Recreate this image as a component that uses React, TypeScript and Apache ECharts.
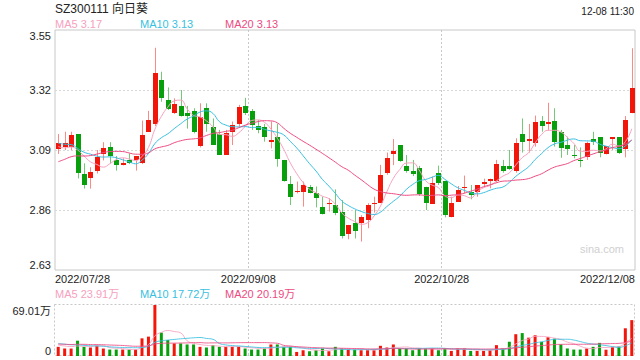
import React, { useEffect, useRef } from "react";
import * as echarts from "echarts";

const stockTitle = "SZ300111 向日葵";
const timeText = "12-08 11:30";

const dates = [
  "2022/07/28","2022/07/29",
  "2022/08/01","2022/08/02","2022/08/03","2022/08/04","2022/08/05","2022/08/08","2022/08/09","2022/08/10","2022/08/11","2022/08/12",
  "2022/08/15","2022/08/16","2022/08/17","2022/08/18","2022/08/19","2022/08/22","2022/08/23","2022/08/24","2022/08/25","2022/08/26",
  "2022/08/29","2022/08/30","2022/08/31",
  "2022/09/01","2022/09/02","2022/09/05","2022/09/06","2022/09/07","2022/09/08","2022/09/09","2022/09/13","2022/09/14","2022/09/15",
  "2022/09/16","2022/09/19","2022/09/20","2022/09/21","2022/09/22","2022/09/23","2022/09/26","2022/09/27","2022/09/28","2022/09/29","2022/09/30",
  "2022/10/10","2022/10/11","2022/10/12","2022/10/13","2022/10/14","2022/10/17","2022/10/18","2022/10/19","2022/10/20","2022/10/21",
  "2022/10/24","2022/10/25","2022/10/26","2022/10/27","2022/10/28","2022/10/31",
  "2022/11/01","2022/11/02","2022/11/03","2022/11/04","2022/11/07","2022/11/08","2022/11/09","2022/11/10","2022/11/11",
  "2022/11/14","2022/11/15","2022/11/16","2022/11/17","2022/11/18","2022/11/21","2022/11/22","2022/11/23","2022/11/24","2022/11/25",
  "2022/11/28","2022/11/29","2022/11/30",
  "2022/12/01","2022/12/02","2022/12/05","2022/12/06","2022/12/07","2022/12/08",
];

const opens = [
  3.093,3.103,3.103,3.151,2.999,2.981,3.011,3.075,3.100,3.050,
  3.031,3.052,3.052,3.042,3.160,3.190,3.358,3.282,3.233,3.259,
  3.230,3.239,3.105,3.250,3.177,3.151,3.071,3.160,3.190,3.259,
  3.240,3.182,3.180,3.122,3.141,3.052,2.960,2.929,2.930,2.950,
  2.924,2.873,2.883,2.879,2.854,2.768,2.811,2.811,2.822,2.883,
  2.886,3.000,3.073,3.109,3.030,3.011,3.020,2.949,2.883,3.000,
  2.972,2.832,2.892,2.943,2.930,2.930,2.960,2.972,2.972,3.030,
  3.030,3.011,3.151,3.126,3.116,3.200,3.190,3.202,3.158,3.109,
  3.071,3.052,3.062,3.131,3.139,3.073,3.131,3.139,3.093,3.233,
];
const closes = [
  3.116,3.116,3.146,3.003,2.955,3.004,3.064,3.096,3.067,3.034,
  3.039,3.042,3.067,3.146,3.205,3.386,3.288,3.246,3.266,3.220,
  3.220,3.160,3.218,3.190,3.109,3.071,3.156,3.186,3.256,3.231,
  3.186,3.167,3.141,3.128,3.054,2.972,2.911,2.934,2.956,2.926,
  2.905,2.843,2.888,2.850,2.760,2.803,2.780,2.834,2.879,2.888,
  2.994,3.058,3.087,3.049,3.011,2.998,2.921,2.886,2.962,2.962,
  2.841,2.886,2.937,2.949,2.918,2.956,2.967,2.980,3.036,3.011,
  3.019,3.116,3.122,3.131,3.196,3.182,3.196,3.122,3.099,3.093,
  3.067,3.048,3.116,3.122,3.080,3.105,3.139,3.080,3.205,3.329,
];
const highs = [
  3.151,3.160,3.160,3.151,3.039,3.024,3.090,3.120,3.120,3.067,
  3.058,3.077,3.067,3.203,3.240,3.482,3.390,3.330,3.288,3.320,
  3.259,3.250,3.269,3.269,3.211,3.167,3.167,3.199,3.263,3.290,
  3.247,3.205,3.190,3.199,3.190,3.052,2.990,2.969,2.969,2.956,
  2.950,2.911,2.905,2.939,2.898,2.803,2.860,2.840,2.886,2.911,
  3.033,3.080,3.132,3.109,3.071,3.052,3.029,2.949,2.988,3.030,
  2.972,2.911,2.952,2.992,2.956,2.956,2.980,2.980,3.052,3.052,
  3.090,3.135,3.211,3.190,3.222,3.220,3.271,3.250,3.167,3.141,
  3.109,3.100,3.122,3.160,3.139,3.105,3.139,3.139,3.220,3.480,
];
const lows = [
  3.075,3.090,3.090,2.981,2.942,2.942,3.000,3.050,3.039,3.011,
  3.031,3.036,3.011,3.036,3.160,3.182,3.275,3.243,3.228,3.218,
  3.172,3.154,3.100,3.160,3.109,3.071,3.071,3.109,3.180,3.224,
  3.167,3.154,3.122,3.096,3.026,2.969,2.879,2.924,2.873,2.924,
  2.870,2.843,2.854,2.840,2.751,2.748,2.751,2.739,2.790,2.850,
  2.886,2.995,3.032,3.045,3.003,2.990,2.914,2.860,2.883,2.956,
  2.832,2.832,2.892,2.924,2.901,2.911,2.950,2.943,2.965,3.003,
  3.014,3.003,3.080,3.080,3.103,3.160,3.167,3.103,3.060,3.071,
  3.058,3.024,3.052,3.109,3.062,3.073,3.090,3.075,3.062,3.231,
];
// closes of the 19 sessions before the window (used only for the moving averages)
const priorCloses = [
  2.93,2.95,2.94,2.96,2.97,2.95,2.98,2.991,3.02,3.053,
  3.15,3.16,3.15,3.10,3.08,3.14,3.13,3.06,3.07,
];

// volumes in 万
const volumes = [
  12.4,10.1,10.1,20.7,12.4,11.5,13.8,10.1,8.7,8.7,
  8.7,8.7,8.7,23.9,26.2,69.01,31.7,21.6,17,17,
  15.6,15.6,12.4,11.5,14.7,12.4,12.4,12.4,12.4,10.1,
  8.7,8.7,10.1,15.6,15.6,12.4,12.4,5.5,7.8,6.4,
  7.8,10.1,6.4,12.4,10.1,8.7,8.7,7.8,7.8,7.8,
  13.8,11.5,15.6,10.1,10.1,7.8,10.1,10.1,10.1,7.8,
  10.1,6.9,10.1,10.1,6.9,6.9,6.9,7.8,14.7,10.1,
  19.3,29.5,31,24.8,28,19.2,25.5,23.5,15.6,10.2,
  8.7,8.7,10.1,12.4,17.75,8.5,12,13,37.5,48.55,
];
const priorVolumes = [
  14,15,16,13,17,15,14,16,15,15.3,
  20,18,22,19,17.3,16,14,17,14.2,
];

const xTickLabels = ["2022/07/28", "2022/09/08", "2022/10/28", "2022/12/08"];
const yTickLabels = ["2.63", "2.86", "3.09", "3.32", "3.55"];
const priceMin = 2.63;
const priceMax = 3.55;
const maPeriods = [5, 10, 20];

const UP = "#f2150a";
const DOWN = "#07a00c";
const UP_WICK = "#f98a84";
const DOWN_WICK = "#74c976";
const MA_COLORS = ["#f7a0c0", "#38bfe0", "#ec4a82"];
const FONT = '"Liberation Sans", Arial, "Noto Sans CJK SC", sans-serif';

function movingAvg(prior: number[], values: number[], n: number): number[] {
  const all = prior.concat(values);
  const off = prior.length;
  return values.map((_, i) => {
    let s = 0;
    for (let k = off + i - n + 1; k <= off + i; k++) s += all[k];
    return +(s / n).toFixed(4);
  });
}

export default function App() {
  const ref = useRef<HTMLDivElement>(null);
  useEffect(() => {
    if (!ref.current) return;
    const chart = echarts.init(ref.current, null, { renderer: "svg" });
    const idx = dates.map((_, i) => i);
    const candleData = idx.map((i) => [i, opens[i], closes[i], lows[i], highs[i]]);
    const priceMA = maPeriods.map((n) => movingAvg(priorCloses, closes, n));
    const volMA = maPeriods.map((n) => movingAvg(priorVolumes, volumes, n));
    const maxVol = Math.max(...volumes);
    const volTickLabels = ["0", maxVol.toFixed(2) + "万"];
    const last = dates.length - 1;
    const legendX = [55, 140, 225];

    const textStyleBase = { fontFamily: FONT };
    const option: any = {
      animation: false,
      backgroundColor: "#fff",
      textStyle: textStyleBase,
      grid: [
        { left: 55, right: 5, top: 30, height: 240, show: true, borderColor: "#c8c8c8", borderWidth: 1, containLabel: false, outerBoundsMode: "none" },
        { left: 55, right: 5, top: 305, height: 51, show: false, containLabel: false, outerBoundsMode: "none" },
      ],
      xAxis: [
        { type: "category", gridIndex: 0, data: dates, boundaryGap: true, show: false },
        { type: "category", gridIndex: 1, data: dates, boundaryGap: true, show: false },
        {
          type: "value", gridIndex: 0, min: 0, max: 3, interval: 1, position: "bottom",
          axisLine: { show: false }, axisTick: { show: false },
          axisLabel: {
            show: true, color: "#222", fontSize: 11, fontFamily: FONT, margin: 3,
            formatter: (v: number) => xTickLabels[Math.round(v)] ?? "",
            alignMinLabel: "left", alignMaxLabel: "right",
          },
          splitLine: { show: true, showMinLine: false, showMaxLine: false, lineStyle: { color: "#c8c8c8", type: [2, 2], width: 1 } },
        },
        {
          type: "value", gridIndex: 1, min: 0, max: 3, interval: 1,
          axisLine: { show: false }, axisTick: { show: false }, axisLabel: { show: false },
          splitLine: { show: true, showMinLine: false, showMaxLine: false, lineStyle: { color: "#c8c8c8", type: [2, 2], width: 1 } },
        },
      ],
      yAxis: [
        { type: "value", gridIndex: 0, min: priceMin, max: priceMax, show: false },
        {
          type: "value", gridIndex: 0, min: 0, max: yTickLabels.length - 1, interval: 1, position: "left",
          axisLine: { show: false }, axisTick: { show: false },
          axisLabel: {
            color: "#222", fontSize: 11, fontFamily: FONT, margin: 4,
            formatter: (v: number) => yTickLabels[Math.round(v)] ?? "",
            verticalAlignMinLabel: "bottom", verticalAlignMaxLabel: "top",
          },
          splitLine: { show: true, showMinLine: false, showMaxLine: false, lineStyle: { color: "#d8d8d8", type: [2, 2], width: 1 } },
        },
        { type: "value", gridIndex: 1, min: 0, max: maxVol, show: false },
        {
          type: "value", gridIndex: 1, min: 0, max: 1, interval: 1, position: "left",
          axisLine: { show: false }, axisTick: { show: false },
          axisLabel: {
            color: "#222", fontSize: 11, fontFamily: FONT, margin: 4,
            formatter: (v: number) => volTickLabels[Math.round(v)] ?? "",
            verticalAlignMinLabel: "bottom", verticalAlignMaxLabel: "top",
          },
          splitLine: { show: false },
        },
      ],
      graphic: [
        { type: "text", x: 55, y: 9, style: { text: stockTitle, fill: "#222", font: `12px ${FONT}`, textVerticalAlign: "middle" } },
        { type: "text", x: 634, y: 11, style: { text: timeText, fill: "#222", font: `10px ${FONT}`, textAlign: "right", textVerticalAlign: "middle" } },
        ...maPeriods.map((n, k) => ({
          type: "text", x: legendX[k], y: 24,
          style: { text: `MA${n} ${priceMA[k][last].toFixed(2)}`, fill: MA_COLORS[k], font: `11px ${FONT}`, textVerticalAlign: "middle" },
        })),
        ...maPeriods.map((n, k) => ({
          type: "text", x: legendX[k], y: 294,
          style: { text: `MA${n} ${volMA[k][last].toFixed(2)}万`, fill: MA_COLORS[k], font: `11px ${FONT}`, textVerticalAlign: "middle" },
        })),
        { type: "text", x: 602, y: 249, style: { text: "sina.com", fill: "#d0d0d0", font: `11px ${FONT}`, textAlign: "center", textVerticalAlign: "middle" } },
        {
          type: "rect", shape: { x: 54.5, y: 304.5, width: 580, height: 51 },
          style: { fill: "none", stroke: "#c8c8c8", lineWidth: 1, lineDash: [2, 2] }, silent: true,
        },
      ],
      series: [
        {
          type: "custom", name: "K", xAxisIndex: 0, yAxisIndex: 0,
          data: candleData,
          encode: { x: 0, y: [1, 2, 3, 4] },
          clip: true,
          renderItem: (params: any, api: any) => {
            const i = api.value(0);
            const o = api.value(1), c = api.value(2), l = api.value(3), h = api.value(4);
            const up = c >= o;
            const pO = api.coord([i, o]);
            const pC = api.coord([i, c]);
            const pL = api.coord([i, l]);
            const pH = api.coord([i, h]);
            const cx = Math.round(pO[0]);
            const top = Math.round(Math.min(pO[1], pC[1]));
            const bot = Math.round(Math.max(pO[1], pC[1]));
            return {
              type: "group",
              children: [
                { type: "line", shape: { x1: cx + 0.5, y1: pH[1], x2: cx + 0.5, y2: pL[1] }, style: { stroke: up ? UP_WICK : DOWN_WICK, lineWidth: 1 } },
                { type: "rect", shape: { x: cx - 2, y: top, width: 5, height: Math.max(1, bot - top) }, style: { fill: up ? UP : DOWN } },
              ],
            };
          },
        },
        ...maPeriods.map((n, k) => ({
          type: "line", name: `MA${n}`, xAxisIndex: 0, yAxisIndex: 0, data: priceMA[k],
          smooth: true, showSymbol: false, symbol: "none", lineStyle: { color: MA_COLORS[k], width: 1 }, z: 3,
        })),
        {
          type: "bar", name: "VOL", xAxisIndex: 1, yAxisIndex: 2, barWidth: 3,
          data: volumes.map((v, i) => ({ value: v, itemStyle: { color: closes[i] >= opens[i] ? UP : DOWN } })),
        },
        ...maPeriods.map((n, k) => ({
          type: "line", name: `VMA${n}`, xAxisIndex: 1, yAxisIndex: 2, data: volMA[k],
          smooth: true, showSymbol: false, symbol: "none", lineStyle: { color: MA_COLORS[k], width: 1, opacity: 0.85 }, z: 3,
        })),
      ],
    };
    chart.setOption(option);
    return () => chart.dispose();
  }, []);
  return <div ref={ref} style={{ position: "fixed", left: 0, top: 0, width: 640, height: 360 }} />;
}
